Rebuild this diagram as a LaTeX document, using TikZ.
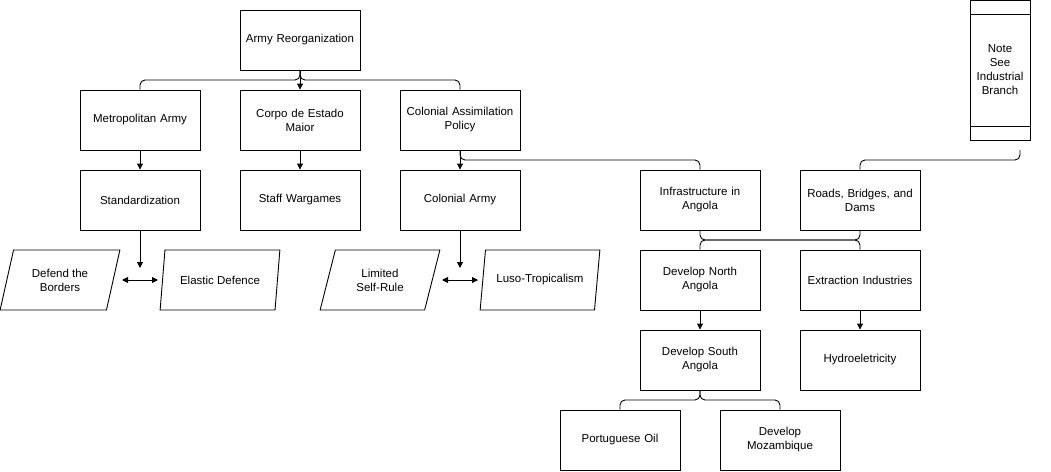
\documentclass[tikz,border=0pt]{standalone}
\usepackage{fontspec}
\setmainfont{Liberation Sans}
\usetikzlibrary{shapes.geometric}
\usetikzlibrary{arrows.meta}
\tikzset{
  box/.style={draw,line width=0.9pt,minimum width=120pt,minimum height=60pt,align=center,inner sep=2pt,text width=112pt},
  para/.style={draw,line width=0.9pt,trapezium,trapezium left angle=71,trapezium right angle=109,trapezium stretches=true,minimum width=120pt,minimum height=60pt,align=center,inner sep=1pt},
  link/.style={line width=0.9pt,rounded corners=5pt},
  arr/.style={line width=0.9pt,-{Triangle[length=6pt,width=6pt]}},
  darr/.style={line width=0.9pt,{Triangle[length=6pt,width=6pt]}-{Triangle[length=6pt,width=6pt]}}
}
\begin{document}
\begin{tikzpicture}[x=1pt,y=1pt,yscale=-1,font=\fontsize{11.5}{14}\selectfont]
\useasboundingbox (0,0) rectangle (1051,471);

% Boxes
\node[box] (army) at (300,40) {Army Reorganization};
\node[box] (metro) at (140,120) {Metropolitan Army};
\node[box] (corpo) at (300,120) {Corpo de Estado\\Maior};
\node[box] (assim) at (460,120) {Colonial Assimilation\\Policy};
\node[box] (std) at (140,200) {Standardization};
\node[box] (staff) at (300,200) {Staff Wargames};
\node[box] (colarmy) at (460,200) {Colonial Army};
\node[box] (infra) at (700,200) {Infrastructure in\\Angola};
\node[box] (roads) at (860,200) {Roads, Bridges, and\\Dams};
\node[box] (north) at (700,280) {Develop North\\Angola};
\node[box] (extract) at (860,280) {Extraction Industries};
\node[box] (south) at (700,360) {Develop South\\Angola};
\node[box] (hydro) at (860,360) {Hydroeletricity};
\node[box] (oil) at (620,440) {Portuguese Oil};
\node[box] (mozam) at (780,440) {Develop\\Mozambique};

% Parallelograms
\node[para] (defend) at (60,280) {Defend the\\Borders};
\node[para] (elastic) at (220,280) {Elastic Defence};
\node[para] (selfrule) at (380,280) {Limited\\Self-Rule};
\node[para] (luso) at (540,280) {Luso-Tropicalism};

% Note
\node[draw,line width=0.9pt,minimum width=60pt,minimum height=140pt,align=center] (note) at (1000,70) {Note\\See\\Industrial\\Branch};
\draw[line width=0.9pt] (970,14) -- (1030,14) (970,126) -- (1030,126);
\coordinate (notefoot) at (1020,150);

% Connectors
\draw[link] (army.south) -- (300,80) -- (140,80) -- (metro.north);
\draw[link] (army.south) -- (300,80) -- (460,80) -- (assim.north);
\draw[arr] (army) -- (corpo);
\draw[arr] (metro) -- (std);
\draw[arr] (corpo) -- (staff);
\draw[arr] (assim) -- (colarmy);
\draw[link] (assim.south) -- (460,160) -- (700,160) -- (infra.north);
\draw[link] (notefoot) -- (1020,160) -- (860,160) -- (roads.north);
\draw[link] (infra.south) -- (700,240) -- (860,240) -- (extract.north);
\draw[link] (roads.south) -- (860,240) -- (700,240) -- (north.north);
\draw[arr] (north) -- (south);
\draw[arr] (extract) -- (hydro);
\draw[link] (south.south) -- (700,400) -- (620,400) -- (oil.north);
\draw[link] (south.south) -- (700,400) -- (780,400) -- (mozam.north);

\coordinate (stdtip) at (140,268);
\coordinate (coltip) at (460,268);
\draw[arr] (std.south) -- (stdtip);
\draw[arr] (colarmy.south) -- (coltip);
\draw[darr] (122,280) -- (158,280);
\draw[darr] (442,280) -- (478,280);
\end{tikzpicture}
\end{document}
